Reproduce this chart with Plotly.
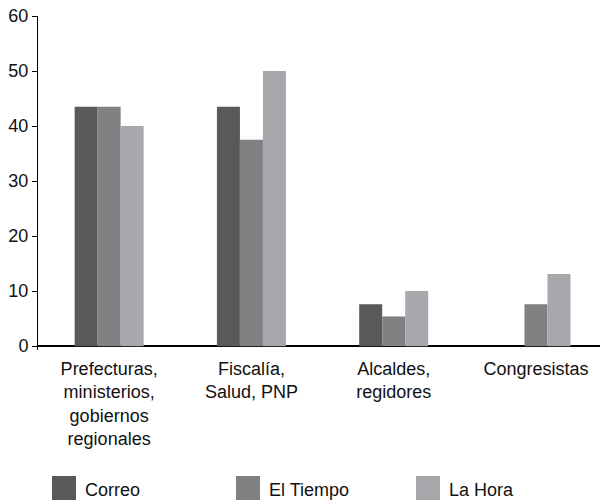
import plotly.graph_objects as go

categories = ["Prefecturas,<br>ministerios,<br>gobiernos<br>regionales",
              "Fiscalía,<br>Salud, PNP",
              "Alcaldes,<br>regidores",
              "Congresistas"]
series_names = ["Correo", "El Tiempo", "La Hora"]
correo = [43.5, 43.5, 7.6, 0]
el_tiempo = [43.5, 37.5, 5.4, 7.6]
la_hora = [40, 50, 10, 13.1]
colors = ["#58595b", "#808183", "#a7a8ab"]
y_ticks = [0, 10, 20, 30, 40, 50, 60]

W, H = 600, 502
# plot area in page pixels: x 38..600, y 16..350
ML, MR, MT, MB = 38, 0, 16, 502 - 350
FONT = "Liberation Sans, Arial, Helvetica, sans-serif"

def px_x(px):
    return (px - ML) / (W - ML - MR)

def px_y(py):
    return (H - MB - py) / (H - MT - MB)

fig = go.Figure()
for name, vals, col in zip(series_names, [correo, el_tiempo, la_hora], colors):
    fig.add_trace(go.Bar(x=categories, y=vals, name=name,
                         marker=dict(color=col, line=dict(width=0)),
                         showlegend=False, hoverinfo="skip"))

# manual legend with large swatches
shapes = []
annotations = []
leg_x = [52, 236, 416]
for name, col, lx in zip(series_names, colors, leg_x):
    shapes.append(dict(type="rect", xref="paper", yref="paper",
                       x0=px_x(lx), x1=px_x(lx + 24),
                       y0=px_y(500), y1=px_y(476),
                       fillcolor=col, line=dict(width=0)))
    annotations.append(dict(xref="paper", yref="paper",
                            x=px_x(lx + 31), y=px_y(490),
                            xanchor="left", yanchor="middle",
                            text=name, showarrow=False,
                            font=dict(size=18, color="#111111", family=FONT)))

fig.update_layout(
    width=W, height=H,
    margin=dict(l=ML, r=MR, t=MT, b=MB, pad=0, autoexpand=False),
    paper_bgcolor="white", plot_bgcolor="white",
    barmode="group", bargap=0.515, bargroupgap=0,
    font=dict(family=FONT, size=18, color="#111111"),
    shapes=shapes, annotations=annotations,
    xaxis=dict(range=[-0.5, 3.45], showline=False, showgrid=False,
               ticks="", tickfont=dict(size=18, family=FONT, color="#111111"),
               ticklabelstandoff=6,
               zeroline=False, fixedrange=True, automargin=False),
    yaxis=dict(range=[-0.7, 60], tickvals=y_ticks, showgrid=False,
               showline=True, linecolor="#000000", linewidth=1,
               ticks="outside", ticklen=5, tickcolor="#000000",
               zeroline=True, zerolinecolor="#000000", zerolinewidth=1.5,
               automargin=False, fixedrange=True,
               tickfont=dict(size=18, family=FONT, color="#111111")),
)

fig.write_html("out.html",
               config={"displayModeBar": False},
               post_script="document.body.style.margin='0';"
                           "document.body.style.overflow='hidden';")
